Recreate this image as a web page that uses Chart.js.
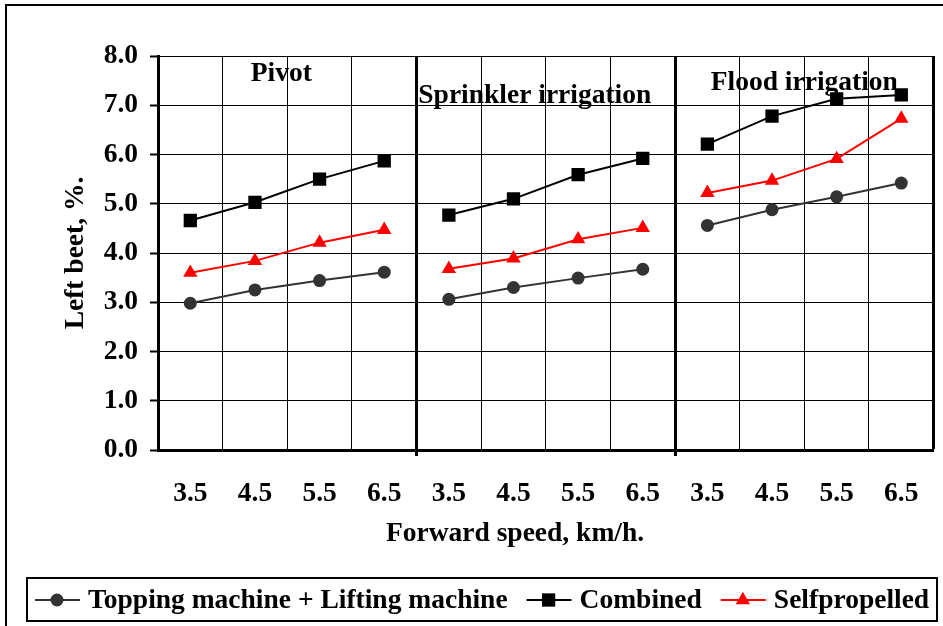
<!DOCTYPE html>
<html>
<head>
<meta charset="utf-8">
<script src="https://cdn.jsdelivr.net/npm/chart.js@4.4.1/dist/chart.umd.min.js"></script>
<style>
  body { margin: 0; background: #fff; }
</style>
</head>
<body>
<canvas id="chart1" width="943" height="626"></canvas>
<script>
var speeds = ["3.5", "4.5", "5.5", "6.5", "3.5", "4.5", "5.5", "6.5", "3.5", "4.5", "5.5", "6.5"];
var groups = ["Pivot", "Sprinkler irrigation", "Flood irrigation"];
var topping = [2.98, 3.25, 3.44, 3.61, 3.06, 3.30, 3.49, 3.67, 4.56, 4.88, 5.14, 5.42];
var combined = [4.66, 5.03, 5.50, 5.87, 4.77, 5.10, 5.59, 5.92, 6.21, 6.78, 7.13, 7.21];
var selfprop = [3.60, 3.84, 4.21, 4.47, 3.68, 3.89, 4.28, 4.51, 5.22, 5.47, 5.91, 6.73];
var seriesNames = ["Topping machine + Lifting machine", "Combined", "Selfpropelled"];

var fuente = "'Liberation Serif', 'Times New Roman', serif";
var tam = 27.5;

// cut the line between the three groups
function cortar(ctx) {
  return (ctx.p0DataIndex % 4 == 3) ? "transparent" : undefined;
}

// group titles, x-axis title, legend and outer frame
var extras = {
  id: "extras",
  beforeDraw: function(chart) {
    var ctx = chart.ctx;
    ctx.save();
    ctx.strokeStyle = "#000";
    ctx.lineWidth = 2;
    ctx.strokeRect(6, 5, 1200, 1200);
    ctx.restore();
  },
  afterDraw: function(chart) {
    var ctx = chart.ctx;
    var x = chart.scales.x, y = chart.scales.y;
    var spots = [{dx: -6, v: 7.63}, {dx: -11, v: 7.2}, {dx: 0, v: 7.45}];
    ctx.save();
    ctx.fillStyle = "#000";
    ctx.font = "bold " + tam + "px " + fuente;
    ctx.textAlign = "center";
    ctx.textBaseline = "middle";
    for (var g = 0; g < groups.length; g++) {
      var cx = (x.getPixelForValue(g * 4) + x.getPixelForValue(g * 4 + 3)) / 2 + spots[g].dx;
      ctx.fillText(groups[g], cx, y.getPixelForValue(spots[g].v));
    }
    ctx.fillText("Forward speed, km/h.", 515, 534);

    // legend
    ctx.lineWidth = 2;
    ctx.strokeStyle = "#000";
    ctx.strokeRect(27, 578, 910, 43);
    var lx = 35, ly = 600;
    ctx.textAlign = "left";
    chart.data.datasets.forEach(function(ds) {
      ctx.strokeStyle = ds.borderColor;
      ctx.lineWidth = 2;
      ctx.beginPath();
      ctx.moveTo(lx, ly);
      ctx.lineTo(lx + 45, ly);
      ctx.stroke();
      ctx.fillStyle = ds.pointBackgroundColor;
      Chart.helpers.drawPoint(ctx, {pointStyle: ds.pointStyle, radius: ds.pointRadius, rotation: 0, borderWidth: 0}, lx + 22, ly);
      ctx.fillStyle = "#000";
      ctx.fillText(ds.label, lx + 53, ly + 1);
      lx += 53 + ctx.measureText(ds.label).width + 19;
    });
    ctx.restore();
  }
};

var grafico1 = new Chart(document.getElementById("chart1"), {
  type: "line",
  data: {
    labels: speeds,
    datasets: [{
      label: seriesNames[0],
      data: topping,
      borderColor: "#333333",
      backgroundColor: "#333333",
      pointBackgroundColor: "#333333",
      pointBorderWidth: 0,
      pointStyle: "circle",
      pointRadius: 6.5,
      borderWidth: 2,
      segment: { borderColor: cortar }
    }, {
      label: seriesNames[1],
      data: combined,
      borderColor: "#000000",
      backgroundColor: "#000000",
      pointBackgroundColor: "#000000",
      pointBorderWidth: 0,
      pointStyle: "rect",
      pointRadius: 9.4,
      borderWidth: 2,
      segment: { borderColor: cortar }
    }, {
      label: seriesNames[2],
      data: selfprop,
      borderColor: "#ff0000",
      backgroundColor: "#ff0000",
      pointBackgroundColor: "#ff0000",
      pointBorderWidth: 0,
      pointStyle: "triangle",
      pointRadius: 8.3,
      borderWidth: 2,
      segment: { borderColor: cortar }
    }]
  },
  options: {
    responsive: false,
    animation: false,
    devicePixelRatio: 1,
    layout: { padding: { top: 56, right: 9, bottom: 56, left: 0 } },
    plugins: {
      legend: { display: false },
      tooltip: { enabled: false }
    },
    scales: {
      x: {
        offset: true,
        afterFit: function(s) { s.height = 120; },
        grid: {
          offset: true,
          color: "#000",
          lineWidth: function(c) {
            return (c.index === undefined || c.index == 4 || c.index == 8) ? 3 : 1;
          },
          tickLength: 6,
          tickWidth: 3,
          tickColor: function(c) {
            return (c.index == 4 || c.index == 8) ? "#000" : "transparent";
          }
        },
        border: { display: true, color: "#000", width: 3 },
        ticks: {
          color: "#000",
          padding: 21,
          maxRotation: 0,
          autoSkip: false,
          font: { family: fuente, size: tam, weight: "bold" }
        }
      },
      y: {
        min: 0,
        max: 8,
        afterFit: function(s) { s.width = 158; },
        grid: { color: "#000", lineWidth: 1, tickLength: 8, tickColor: "#000", tickWidth: 2 },
        border: { display: true, color: "#000", width: 3 },
        ticks: {
          stepSize: 1,
          color: "#000",
          padding: 12,
          font: { family: fuente, size: tam, weight: "bold" },
          callback: function(v) { return v.toFixed(1); }
        },
        title: {
          display: true,
          text: "Left beet, %.",
          color: "#000",
          padding: { top: 59, bottom: 0 },
          font: { family: fuente, size: tam, weight: "bold" }
        }
      }
    }
  },
  plugins: [extras]
});
</script>
</body>
</html>
